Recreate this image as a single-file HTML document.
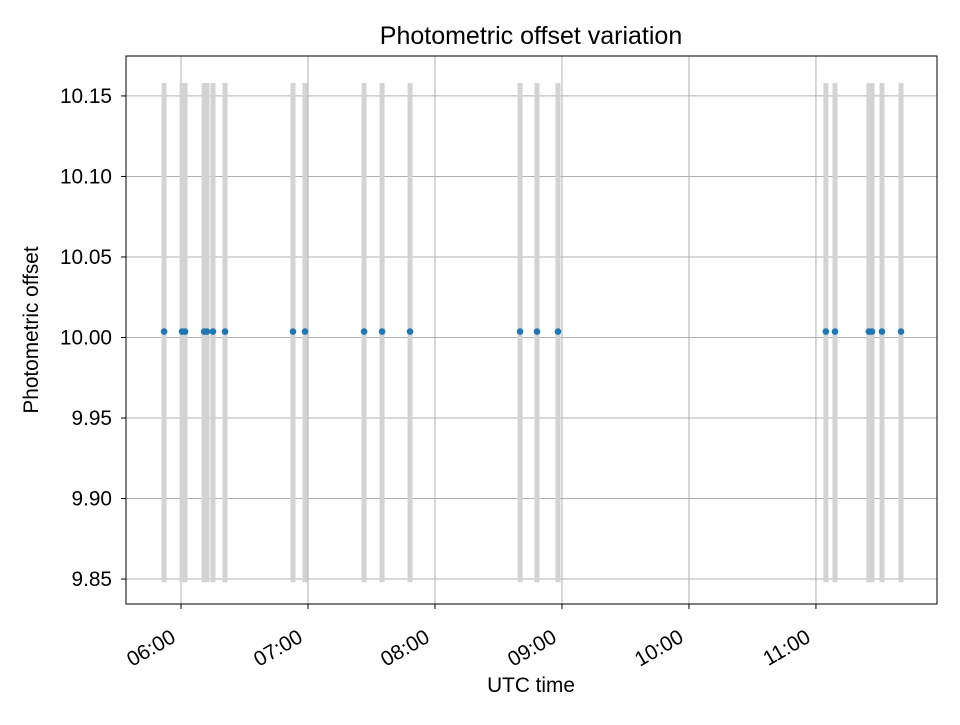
<!DOCTYPE html>
<html><head><meta charset="utf-8"><style>
body{margin:0;background:#fff;font-family:"Liberation Sans",sans-serif;}
</style></head><body>
<svg id="chart" width="960" height="720" xmlns="http://www.w3.org/2000/svg" font-family="Liberation Sans, sans-serif">
<g id="grid"></g><g id="bars"></g><g id="pts"></g><g id="axes"></g>
</svg>
<script>
// minutes after 06:00 UTC
const times = [-8.0,0.5,1.9,10.9,12.3,15.1,20.8,52.9,58.6,86.5,95.0,108.2,160.2,168.2,178.1,304.7,309.0,325.0,326.5,331.2,340.2];
const offsets = [10.0037,10.0037,10.0037,10.0037,10.0037,10.0037,10.0037,10.0037,10.0037,10.0037,10.0037,10.0037,10.0037,10.0037,10.0037,10.0037,10.0037,10.0037,10.0037,10.0037,10.0037];
const barLow = 9.848, barHigh = 10.158;
const yTicks = [9.85,9.90,9.95,10.00,10.05,10.10,10.15];
const xTickMins = [0,60,120,180,240,300];
const xTickLabels = ["06:00","07:00","08:00","09:00","10:00","11:00"];
const L=126,R=937,T=56,B=604;
const xMin=-26.0,xMax=357.2,yMin=9.8345,yMax=10.1748;
const X=m=>L+(m-xMin)/(xMax-xMin)*(R-L);
const Y=v=>B-(v-yMin)/(yMax-yMin)*(B-T);
const NS="http://www.w3.org/2000/svg";
function mk(tag,attrs,parent,text){const e=document.createElementNS(NS,tag);for(const k in attrs)e.setAttribute(k,attrs[k]);if(text!==undefined)e.textContent=text;document.getElementById(parent)?document.getElementById(parent).appendChild(e):parent.appendChild(e);return e;}
yTicks.forEach(v=>{const e=mk('line',{x1:L,x2:R,y1:Y(v),y2:Y(v),stroke:'#b0b0b0','stroke-width':1},'grid');

});
xTickMins.forEach(m=>{const e=mk('line',{x1:X(m),x2:X(m),y1:T,y2:B,stroke:'#b0b0b0','stroke-width':1},'grid');

});
times.forEach((t,i)=>{const e=mk('line',{x1:X(t),x2:X(t),y1:Y(barHigh),y2:Y(barLow),stroke:'#d3d3d3','stroke-width':5},'bars');


const c=mk('circle',{cx:X(t),cy:Y(offsets[i]),r:3.3,fill:'#1f77b4'},'pts');

});
const ax=document.getElementById('axes');
const fr=mk('rect',{x:L,y:T,width:R-L,height:B-T,fill:'none',stroke:'#000','stroke-width':1},ax);


yTicks.forEach(v=>{mk('line',{x1:L-5,x2:L,y1:Y(v),y2:Y(v),stroke:'#000'},ax);
const t=mk('text',{x:L-14,y:Y(v)+7,'text-anchor':'end','font-size':20.8},ax,v.toFixed(2));

});
xTickMins.forEach((m,i)=>{mk('line',{x1:X(m),x2:X(m),y1:B,y2:B+5,stroke:'#000'},ax);
const px=X(m)-4, py=B+37;
const t=mk('text',{x:px,y:py,'text-anchor':'end','font-size':20.8,transform:`rotate(-30 ${px} ${py})`},ax,xTickLabels[i]);

});
</script>
<svg style="position:absolute;left:0;top:0" width="960" height="720" font-family="Liberation Sans, sans-serif">
<text x="531" y="44" text-anchor="middle" font-size="25">Photometric offset variation</text>
<text x="531" y="692" text-anchor="middle" font-size="20.8">UTC time</text>
<text x="38" y="330" text-anchor="middle" font-size="20.8" transform="rotate(-90 38 330)">Photometric offset</text>
</svg>
</body></html>
